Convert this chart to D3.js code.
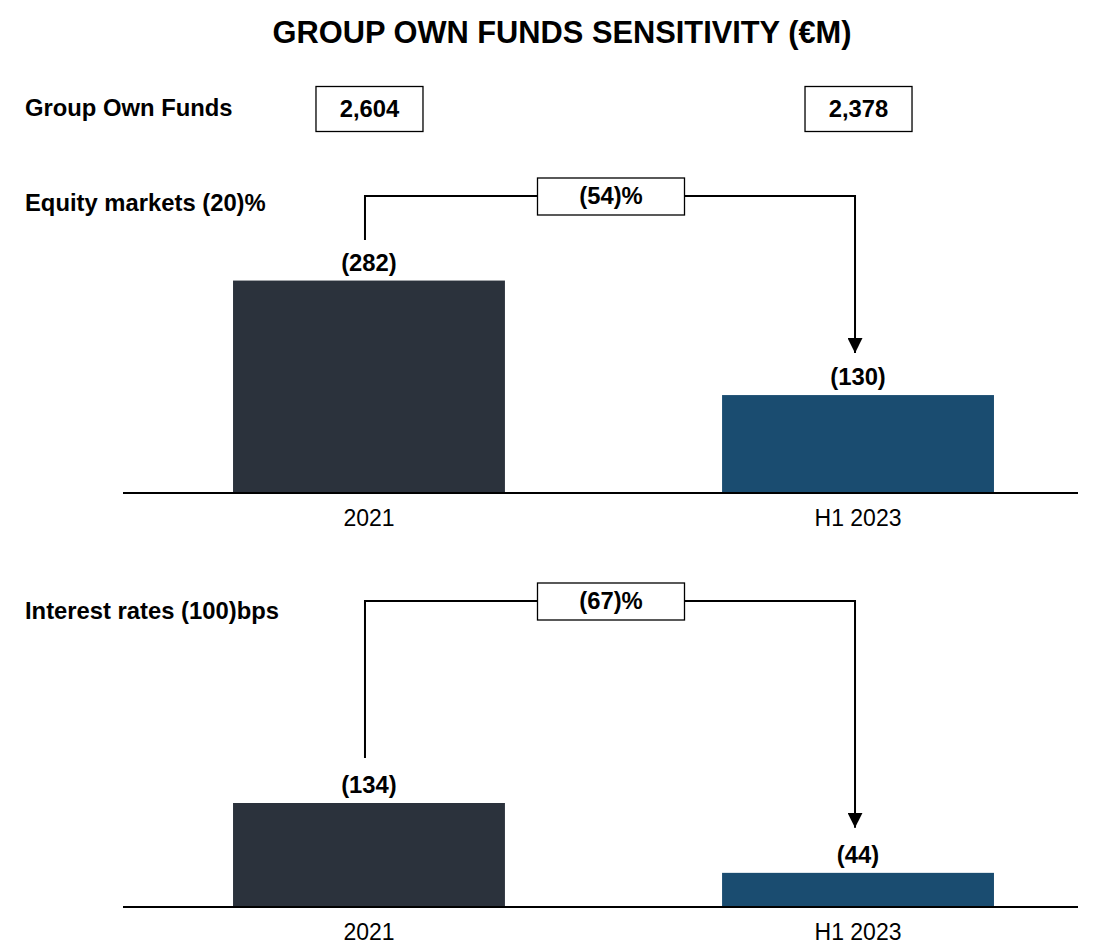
<!DOCTYPE html>
<html>
<head>
<meta charset="utf-8">
<script src="https://cdn.jsdelivr.net/npm/d3@7"></script>
<style>
  html, body { margin: 0; padding: 0; background: #ffffff; }
  svg { display: block; font-family: "Liberation Sans", Arial, sans-serif; }
</style>
</head>
<body>
<svg id="chart" width="1109" height="943"></svg>
<script>
// Sensitivity of group own funds to market shocks (€M)
const categories = ["2021", "H1 2023"];
const ownFunds = [2604, 2378];
const equityImpact = [282, 130];     // equity markets (20)% shock, shown as negatives
const rateImpact = [134, 44];        // interest rates (100)bps shock, shown as negatives
const changeLabels = ["(54)%", "(67)%"];
const panelTitles = ["Equity markets (20)%", "Interest rates (100)bps"];
const barColors = ["#2b323c", "#1a4c70"];

const LABEL_SIZE = 23.8;

const svg = d3.select("#chart");
const fmt = d3.format(",");
const neg = v => "(" + v + ")";

const x = d3.scaleBand()
  .domain(categories)
  .range([123, 1104])
  .paddingInner(0.444)
  .paddingOuter(0.225);
const cx = c => x(c) + x.bandwidth() / 2;

// Title
svg.append("text")
  .attr("x", 562).attr("y", 43)
  .attr("text-anchor", "middle")
  .attr("font-size", 30.8).attr("font-weight", "bold")
  .attr("fill", "#000")
  .text("GROUP OWN FUNDS SENSITIVITY (€M)");

// Own funds row
svg.append("text")
  .attr("x", 25).attr("y", 116)
  .attr("font-size", LABEL_SIZE).attr("font-weight", "bold")
  .text("Group Own Funds");

const boxW = 107, boxH = 45;
const fundBoxes = svg.append("g").selectAll("g")
  .data(categories.map((c, i) => ({ c, v: ownFunds[i] })))
  .join("g")
  .attr("transform", d => `translate(${cx(d.c) - boxW / 2 + 0.5},86.5)`);
fundBoxes.append("rect")
  .attr("width", boxW).attr("height", boxH)
  .attr("fill", "#fff").attr("stroke", "#000").attr("stroke-width", 1.3);
fundBoxes.append("text")
  .attr("x", boxW / 2).attr("y", boxH / 2 + 8)
  .attr("text-anchor", "middle")
  .attr("font-size", LABEL_SIZE).attr("font-weight", "bold")
  .text(d => fmt(d.v));

// Arrow marker
svg.append("defs").append("marker")
  .attr("id", "arrow")
  .attr("viewBox", "0 0 10 10")
  .attr("refX", 10).attr("refY", 5)
  .attr("markerWidth", 7.5).attr("markerHeight", 7.5)
  .attr("markerUnits", "strokeWidth")
  .attr("orient", "auto")
  .append("path").attr("d", "M0,0 L10,5 L0,10 Z").attr("fill", "#000");

function panel(cfg) {
  const g = svg.append("g");
  const y = d3.scaleLinear().domain(cfg.domain).range([cfg.base, cfg.top]);
  const data = categories.map((c, i) => ({ c, v: cfg.values[i], i }));

  g.append("text")
    .attr("x", 25).attr("y", cfg.titleY)
    .attr("font-size", LABEL_SIZE).attr("font-weight", "bold")
    .text(cfg.title);

  g.selectAll("rect.bar").data(data).join("rect")
    .attr("class", "bar")
    .attr("x", d => x(d.c))
    .attr("width", x.bandwidth())
    .attr("y", d => y(d.v))
    .attr("height", d => y(0) - y(d.v))
    .attr("fill", d => barColors[d.i]);

  g.selectAll("text.val").data(data).join("text")
    .attr("class", "val")
    .attr("x", d => cx(d.c))
    .attr("y", d => y(d.v) - 10)
    .attr("text-anchor", "middle")
    .attr("font-size", LABEL_SIZE).attr("font-weight", "bold")
    .text(d => neg(d.v));

  // category axis along the baseline
  const axis = d3.axisBottom(x).tickSize(0).tickPadding(17);
  const ax = g.append("g").attr("transform", `translate(0,${cfg.base})`).call(axis);
  ax.select(".domain").remove();
  ax.selectAll("text")
    .attr("font-size", 23)
    .attr("font-family", "Liberation Sans, Arial, sans-serif")
    .attr("fill", "#000");
  g.append("line")
    .attr("x1", 123).attr("x2", 1078)
    .attr("y1", cfg.base).attr("y2", cfg.base)
    .attr("stroke", "#000").attr("stroke-width", 2);

  // change connector
  const xl = cx(categories[0]) - 4, xr = cx(categories[1]) - 3;
  const path = d3.path();
  path.moveTo(xl, cfg.connStart);
  path.lineTo(xl, cfg.connY);
  path.lineTo(xr, cfg.connY);
  path.lineTo(xr, y(cfg.values[1]) - cfg.arrowGap);
  g.append("path")
    .attr("d", path.toString())
    .attr("fill", "none").attr("stroke", "#000").attr("stroke-width", 2)
    .attr("marker-end", "url(#arrow)");

  const bw = 147, bh = 37;
  const bx = (xl + xr) / 2 - bw / 2 + 1;
  g.append("rect")
    .attr("x", bx).attr("y", cfg.connY - bh / 2 + 0.5)
    .attr("width", bw).attr("height", bh)
    .attr("fill", "#fff").attr("stroke", "#000").attr("stroke-width", 1.3);
  g.append("text")
    .attr("x", bx + bw / 2).attr("y", cfg.connY + 8)
    .attr("text-anchor", "middle")
    .attr("font-size", LABEL_SIZE).attr("font-weight", "bold")
    .text(cfg.change);
}

panel({
  title: panelTitles[0], titleY: 211,
  values: equityImpact, domain: [0, 300], base: 493, top: 267,
  connY: 196, connStart: 240, arrowGap: 42, change: changeLabels[0]
});
panel({
  title: panelTitles[1], titleY: 619,
  values: rateImpact, domain: [0, 134], base: 907, top: 803,
  connY: 601, connStart: 758, arrowGap: 45, change: changeLabels[1]
});
</script>
</body>
</html>
